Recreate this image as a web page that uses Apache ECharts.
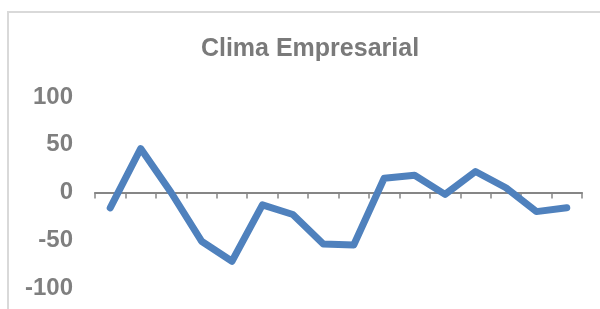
<!DOCTYPE html>
<html>
<head>
<meta charset="utf-8">
<script src="https://cdn.jsdelivr.net/npm/echarts@6/dist/echarts.min.js"></script>
<style>
  html, body { margin: 0; padding: 0; background: #fff; }
  #chart { width: 600px; height: 309px; }
</style>
</head>
<body>
<div id="chart"></div>
<script>
// one point per period, no labels on the x axis
const periods = ['1', '2', '3', '4', '5', '6', '7', '8', '9', '10', '11', '12', '13', '14', '15', '16'];
const clima = [-16, 46, 0, -51, -72, -13, -23, -54, -55, 15, 18, -2, 22, 5, -20, -16];

const chart = echarts.init(document.getElementById('chart'), null, { renderer: 'canvas' });

chart.setOption({
    animation: false,
    title: {
        text: 'Clima Empresarial',
        left: 305,
        textAlign: 'center',
        top: 32,
        textStyle: {
            fontFamily: 'Liberation Sans',
            fontSize: 25,
            fontWeight: 'bold',
            color: '#7a7a7a'
        }
    },
    graphic: [{
        type: 'rect',
        shape: { x: 8, y: 12, width: 620, height: 320 },
        style: { fill: 'none', stroke: '#d9d9d9', lineWidth: 2 },
        silent: true
    }],
    grid: { left: 95, right: 18, top: 97, bottom: 21 },
    xAxis: {
        type: 'category',
        data: periods,
        boundaryGap: true,
        axisLine: { onZero: true, lineStyle: { color: '#868686', width: 2 } },
        axisTick: { show: true, length: 6, inside: false, lineStyle: { color: '#868686', width: 1.5 } },
        axisLabel: { show: false },
        splitLine: { show: false }
    },
    yAxis: {
        type: 'value',
        min: -100,
        max: 100,
        interval: 50,
        axisLine: { show: false },
        axisTick: { show: false },
        splitLine: { show: false },
        axisLabel: {
            margin: 22,
            fontFamily: 'Liberation Sans',
            fontSize: 24,
            fontWeight: 'bold',
            color: '#7f7f7f'
        }
    },
    series: [{
        type: 'line',
        data: clima,
        symbol: 'none',
        lineStyle: { color: '#4f81bd', width: 7, cap: 'round', join: 'round' }
    }]
});
</script>
</body>
</html>
